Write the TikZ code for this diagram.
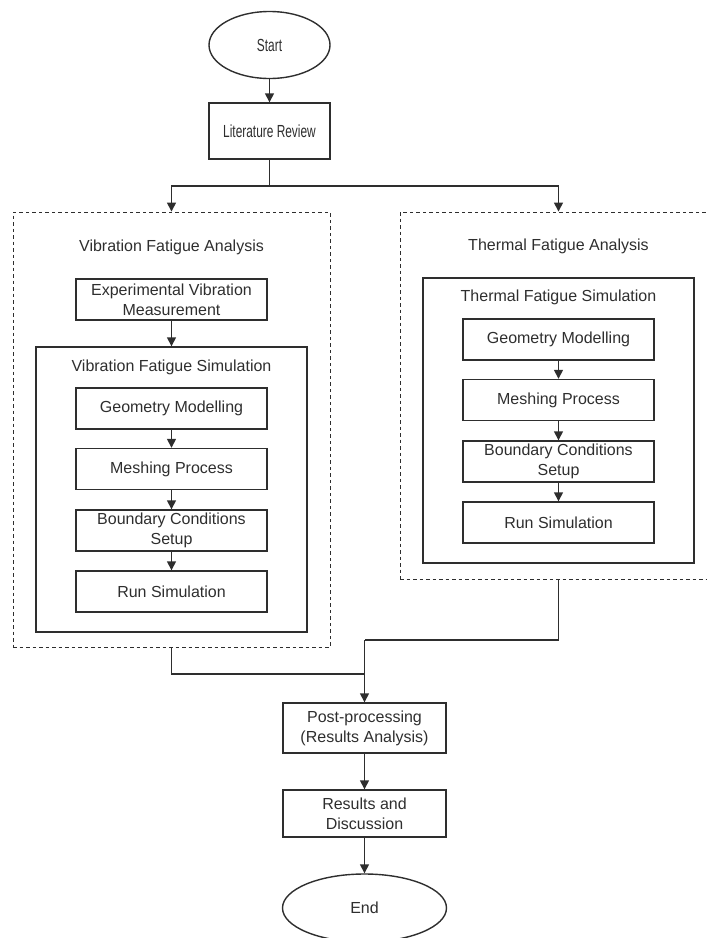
\documentclass[tikz,border=0pt]{standalone}
\usepackage{fontspec}
\setmainfont{Liberation Sans}
\usepackage{graphicx}
\usepackage{tikz}
\usetikzlibrary{arrows.meta,shapes}
\definecolor{inkgray}{HTML}{2E2E2E}
\newcommand{\narrowtext}[1]{\scalebox{0.68}[1]{\fontsize{17.5}{20}\selectfont #1}}
\tikzstyle{terminal}=[ellipse,draw=inkgray,line width=1.4pt,text=inkgray,inner sep=0pt]
\tikzstyle{process}=[rectangle,draw=inkgray,line width=1.4pt,text=inkgray,align=center,minimum width=191pt,minimum height=41pt,inner sep=0pt]
\tikzstyle{analysis box}=[rectangle,draw=inkgray,line width=0.9pt,dash pattern=on 3.5pt off 3pt,minimum width=317pt,inner sep=0pt]
\tikzstyle{simulation box}=[rectangle,draw=inkgray,line width=1.4pt,minimum width=271pt,minimum height=285pt,inner sep=0pt]
\tikzstyle{heading}=[text=inkgray,inner sep=0pt]
\tikzstyle{edge}=[draw=inkgray,line width=1.4pt]
\tikzstyle{flow}=[edge,-{Triangle[length=9pt,width=9pt]}]

\begin{document}
\begin{tikzpicture}[x=1pt,y=-1pt,font=\fontsize{16}{20}\selectfont]
    \useasboundingbox (0,0) rectangle (707,938);
    % start, review and the two analysis groups
    \node[terminal,minimum width=121pt,minimum height=67pt] (start) at (269.5,45) {\narrowtext{Start}};
    \node[process,minimum width=121pt,minimum height=56pt] (review) at (269.5,131) {\narrowtext{Literature Review}};
    \node[analysis box,minimum height=435pt] (vfa) at (171.5,429.5) {};
    \node[analysis box,minimum height=367pt] (tfa) at (558.5,395.5) {};
    \node[heading] at (171.5,247) {Vibration Fatigue Analysis};
    \node[heading] at (558.5,246) {Thermal Fatigue Analysis};

    % the simulation frames
    \node[process] (vexp) at (171.5,299.5) {Experimental Vibration\\Measurement};
    \node[simulation box] (vfs) at (171.5,489.5) {};
    \node[simulation box] (tfs) at (558.5,420.5) {};
    \node[heading] at (171.5,367) {Vibration Fatigue Simulation};
    \node[heading] at (558.5,297) {Thermal Fatigue Simulation};

    % simulation steps, v = vibration, t = thermal
    \foreach \pos/\name/\txt in {{(171.5,408.5)/vgeo/Geometry Modelling},
                                 {(171.5,469)/vmesh/Meshing Process},
                                 {(171.5,530.5)/vbc/{Boundary Conditions\\Setup}},
                                 {(171.5,591.5)/vrun/Run Simulation},
                                 {(558.5,339.5)/tgeo/Geometry Modelling},
                                 {(558.5,400)/tmesh/Meshing Process},
                                 {(558.5,461.5)/tbc/{Boundary Conditions\\Setup}},
                                 {(558.5,522.5)/trun/Run Simulation}}
        \node[process] (\name) at \pos {\txt};

    % post-processing and end
    \node[process,minimum width=163pt,minimum height=50pt] (post) at (364.5,728) {Post-processing\\(Results Analysis)};
    \node[process,minimum width=163pt,minimum height=47pt] (results) at (364.5,813.5) {Results and\\Discussion};
    \node[terminal,minimum width=164pt,minimum height=68pt] (end) at (364.5,908) {End};

    % connectors
    \coordinate (split) at (269.5,186);
    \coordinate (joinT) at (364.5,640);
    \coordinate (joinV) at (364.5,674);
    \path[flow] (start) -- (review);
    \path[edge] (review) -- (split);
    \path[flow] (split) -| (vfa.north);
    \path[flow] (split) -| (tfa.north);
    \path[flow] (vexp) -- (vfs.north);
    \foreach \source/\dest in {vgeo/vmesh,vmesh/vbc,vbc/vrun,tgeo/tmesh,tmesh/tbc,tbc/trun}
        \path[flow] (\source) -- (\dest);
    \path[edge] (tfa.south) |- (joinT);
    \path[edge] (vfa.south) |- (joinV);
    \path[flow] (joinT) -- (post);
    \foreach \source/\dest in {post/results,results/end}
        \path[flow] (\source) -- (\dest);
\end{tikzpicture}
\end{document}
